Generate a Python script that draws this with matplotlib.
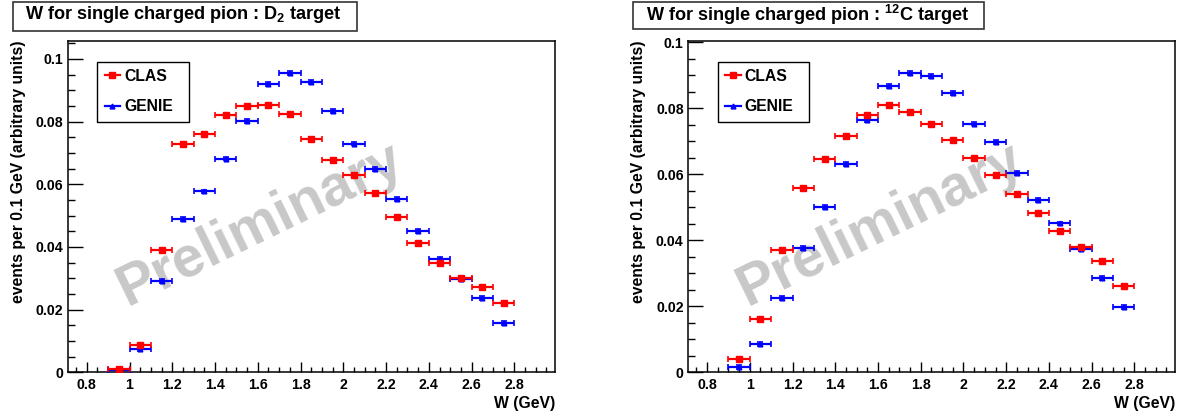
#!/usr/bin/env python3
"""W distribution for single charged pion, CLAS vs GENIE (D2 and 12C)"""
import matplotlib
matplotlib.use('Agg')
import matplotlib.pyplot as plt
from matplotlib.lines import Line2D
from matplotlib.patches import Rectangle
from matplotlib.ticker import MultipleLocator, FuncFormatter

plt.rcParams['font.family'] = ['Liberation Sans', 'DejaVu Sans']
plt.rcParams['font.weight'] = 'bold'
plt.rcParams['mathtext.default'] = 'regular'

# bin centres, 0.1 GeV wide
w_bins = [0.95, 1.05, 1.15, 1.25, 1.35, 1.45, 1.55, 1.65, 1.75, 1.85,
          1.95, 2.05, 2.15, 2.25, 2.35, 2.45, 2.55, 2.65, 2.75]

clas_d2 = [0.0011, 0.0088, 0.0391, 0.0727, 0.0760, 0.0821, 0.0851, 0.0852, 0.0824, 0.0745,
           0.0678, 0.0631, 0.0571, 0.0495, 0.0411, 0.0348, 0.0302, 0.0273, 0.0222]
genie_d2 = [0.0006, 0.0074, 0.0291, 0.0490, 0.0577, 0.0682, 0.0802, 0.0921, 0.0956, 0.0926,
            0.0834, 0.0730, 0.0649, 0.0554, 0.0452, 0.0363, 0.0297, 0.0236, 0.0157]

clas_c12 = [0.0041, 0.0161, 0.0372, 0.0560, 0.0646, 0.0716, 0.0779, 0.0809, 0.0790, 0.0754,
            0.0703, 0.0648, 0.0599, 0.0541, 0.0483, 0.0427, 0.0379, 0.0337, 0.0263]
genie_c12 = [0.0016, 0.0085, 0.0224, 0.0378, 0.0500, 0.0632, 0.0765, 0.0868, 0.0908, 0.0898,
             0.0847, 0.0754, 0.0698, 0.0605, 0.0521, 0.0451, 0.0373, 0.0286, 0.0197]

titles = ['W for single charged pion : D$_2$ target',
          'W for single charged pion : $^{12}$C target']

W, H = 1184, 419


def fig_box(px_left, px_top, px_right, px_bottom):
    """pixel box (from top-left) -> figure fraction rect"""
    return [px_left / W, 1 - px_bottom / H, (px_right - px_left) / W, (px_bottom - px_top) / H]


def draw_panel(ax, clas, genie, ymax):
    half = 0.05
    ax.errorbar(w_bins, clas, xerr=half, yerr=0.0006, fmt='s', color='red',
                markersize=3.8, elinewidth=1.6, capsize=2, capthick=1.2, zorder=4)
    ax.errorbar(w_bins, genie, xerr=half, yerr=0.0006, fmt='^', color='blue',
                markersize=3.4, elinewidth=1.6, capsize=2, capthick=1.2, zorder=3)

    ax.set_xlim(0.71, 2.99)
    ax.set_ylim(0, ymax)
    ax.xaxis.set_major_locator(MultipleLocator(0.2))
    ax.xaxis.set_minor_locator(MultipleLocator(0.05))
    ax.yaxis.set_major_locator(MultipleLocator(0.02))
    ax.yaxis.set_minor_locator(MultipleLocator(0.005))
    fmt = FuncFormatter(lambda v, p: '%g' % round(v, 3))
    ax.xaxis.set_major_formatter(fmt)
    ax.yaxis.set_major_formatter(fmt)
    ax.tick_params(which='both', direction='in', top=False, right=False,
                   labelsize=10.2, width=1)
    ax.tick_params(axis='x', which='major', length=7.2, pad=4)
    ax.tick_params(axis='x', which='minor', length=3.6)
    ax.tick_params(axis='y', which='major', length=10.5, pad=3)
    ax.tick_params(axis='y', which='minor', length=5.3)
    for s in ax.spines.values():
        s.set_linewidth(1.1)

    ax.set_xlabel('W (GeV)', loc='right', fontsize=11.3, fontweight='bold', labelpad=3)
    ax.set_ylabel('events per 0.1 GeV (arbitrary units)', loc='top', fontsize=11.3,
                  fontweight='bold', labelpad=7)

    ax.text(0.395, 0.446, 'Preliminary', transform=ax.transAxes, rotation=26,
            fontsize=41, fontweight='bold', color='#c8c8c8',
            ha='center', va='center', zorder=1)

    handles = [Line2D([], [], color='red', marker='s', markersize=4, lw=1.6),
               Line2D([], [], color='blue', marker='^', markersize=3.5, lw=1.6)]
    leg = ax.legend(handles, ['CLAS', 'GENIE'], loc='upper left',
                    bbox_to_anchor=(0.0615, 0.9367, 0.187, 0.0), mode='expand',
                    fontsize=11.3, frameon=True, fancybox=False, framealpha=1,
                    edgecolor='black', borderpad=0.45, labelspacing=1.0,
                    handlelength=1.0, handletextpad=0.25, borderaxespad=0)
    leg.get_frame().set_linewidth(1)


fig = plt.figure(figsize=(W / 100, H / 100), dpi=100)
fig.patch.set_facecolor('white')

ax1 = fig.add_axes(fig_box(67.5, 40.7, 555, 372.3))
ax2 = fig.add_axes(fig_box(687.8, 40.7, 1175, 372.3))

draw_panel(ax1, clas_d2, genie_d2, 0.1058)
draw_panel(ax2, clas_c12, genie_c12, 0.1005)

# title boxes
for (l, t, r, b), tx, title in [((12.7, 1.7, 357, 30.7), 24.8, titles[0]),
                                ((632.6, 1.7, 984, 28.7), 646.5, titles[1])]:
    rect = fig_box(l, t, r, b)
    fig.patches.append(Rectangle((rect[0], rect[1]), rect[2], rect[3],
                                 transform=fig.transFigure, facecolor='white',
                                 edgecolor='#333333', linewidth=1.2))
    fig.text(tx / W, 1 - 14.5 / H, title, fontsize=13.1, fontweight='bold',
             ha='left', va='center')

plt.savefig('out.png', dpi=100)
